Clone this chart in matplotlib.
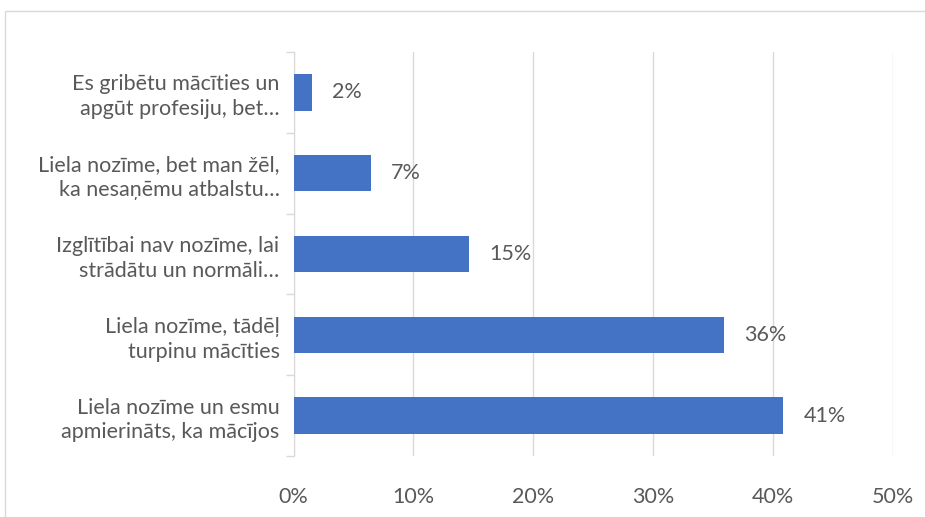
import matplotlib.pyplot as plt
from matplotlib.patches import Rectangle

# kategorijas no apakšas uz augšu
categories = [
    "Liela nozīme un esmu\napmierināts, ka mācījos",
    "Liela nozīme, tādēļ\nturpinu mācīties",
    "Izglītībai nav nozīme, lai\nstrādātu un normāli…",
    "Liela nozīme, bet man žēl,\nka nesaņēmu atbalstu…",
    "Es gribētu mācīties un\napgūt profesiju, bet…",
]
values = [40.85, 35.9, 14.64, 6.46, 1.52]
value_labels = ["41%", "36%", "15%", "7%", "2%"]
x_ticks = [0, 10, 20, 30, 40, 50]
x_tick_labels = ["0%", "10%", "20%", "30%", "40%", "50%"]

plt.rcParams['font.family'] = ['Lato', 'DejaVu Sans']
text_color = '#595959'
grid_color = '#d9d9d9'
fs = 15.5

fig = plt.figure(figsize=(9.25, 5.17), dpi=100)
ax = fig.add_axes([293.5/925, 1 - 456/517, (893 - 293.5)/925, (456 - 52)/517])

y = list(range(len(categories)))
ax.barh(y, values, height=0.45, color='#4472C4', zorder=3)
for yi, v, lab in zip(y, values, value_labels):
    ax.text(v + 1.7, yi, lab, va='center', ha='left', fontsize=fs, color=text_color)

ax.set_xlim(0, 50)
ax.set_ylim(-0.5, len(categories) - 0.5)
ax.set_xticks(x_ticks)
ax.set_xticklabels(x_tick_labels, fontsize=fs, color=text_color)
ax.tick_params(axis='x', length=0, pad=22)
ax.set_yticks(y)
ax.set_yticklabels(categories, fontsize=fs, color=text_color, linespacing=1.3)
ax.tick_params(axis='y', which='major', length=0, pad=10)
ax.set_yticks([i - 0.5 for i in range(len(categories) + 1)], minor=True)
ax.tick_params(axis='y', which='minor', length=6, color=grid_color, width=1)

ax.grid(axis='x', color=grid_color, lw=1, zorder=0)
for s in ['top', 'right', 'bottom']:
    ax.spines[s].set_visible(False)
ax.spines['left'].set_color(grid_color)

# ārējais rāmis
fig.patches.append(Rectangle((4.5/925, -0.1), 1.2, 1.1 - 11/517, transform=fig.transFigure,
                             fill=False, edgecolor=grid_color, lw=1))

plt.savefig("out.png", dpi=100)
